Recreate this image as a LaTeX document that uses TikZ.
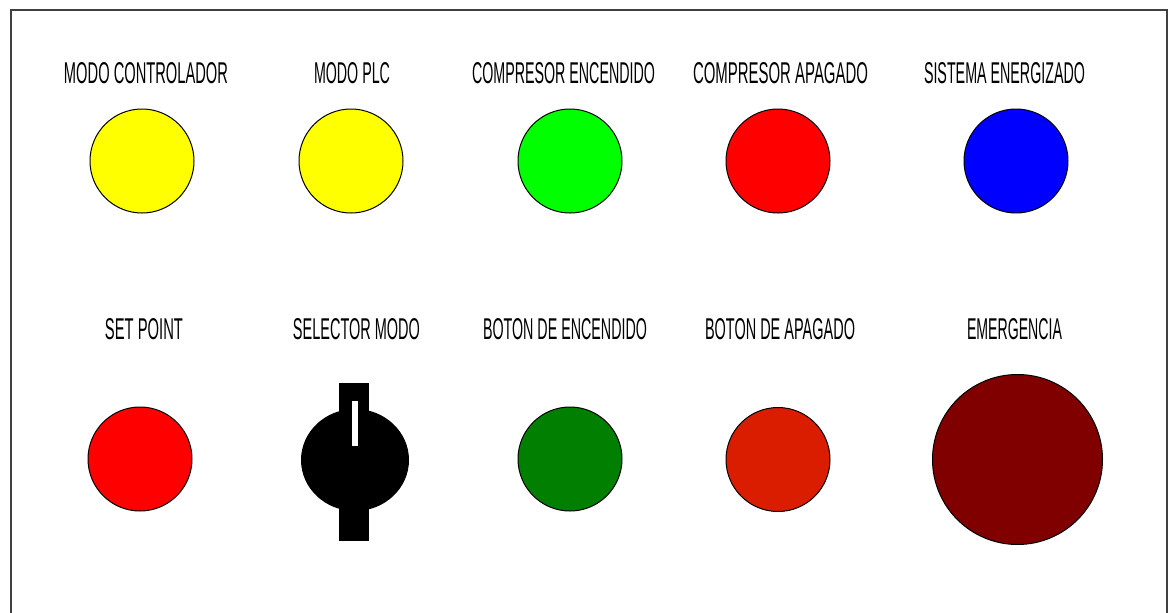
\documentclass[tikz,border=0pt]{standalone}
\usepackage{fontspec}
\setmainfont{Liberation Sans}
\usepackage{graphicx}
\usetikzlibrary{shapes.geometric}
\definecolor{lampyellow}{HTML}{FFFF00}
\definecolor{lampgreen}{HTML}{00FF00}
\definecolor{lampred}{HTML}{FF0000}
\definecolor{lampblue}{HTML}{0000FF}
\definecolor{btngreen}{HTML}{007F00}
\definecolor{btnred}{HTML}{DA1C00}
\definecolor{emerg}{HTML}{800000}
\definecolor{frame}{HTML}{404040}
\newcommand{\lbl}[2]{\resizebox{#1pt}{21pt}{#2}}
\begin{document}
\begin{tikzpicture}[x=1pt,y=-1pt,
  lamp/.style={circle, draw=black, line width=1pt, minimum size=104pt, inner sep=0pt},
  tag/.style={inner sep=0pt, anchor=center},
  panel/.style={draw=frame, line width=2pt}]
\useasboundingbox (0,0) rectangle (1168,613);
\draw[panel] (10.5,630) -- (10.5,9.7) -- (1167,9.7) -- (1167,630);

% row 1 labels
\node[tag] (t1) at (146,73) {\lbl{164}{MODO CONTROLADOR}};
\node[tag] (t2) at (352,73) {\lbl{76}{MODO PLC}};
\node[tag] (t3) at (563.5,73) {\lbl{183}{COMPRESOR ENCENDIDO}};
\node[tag] (t4) at (780.5,73) {\lbl{175}{COMPRESOR APAGADO}};
\node[tag] (t5) at (1004.5,73) {\lbl{161}{SISTEMA ENERGIZADO}};

% row 1 lamps
\node[lamp, fill=lampyellow] (l1) at (142,161) {};
\node[lamp, fill=lampyellow] (l2) at (351,161) {};
\node[lamp, fill=lampgreen] (l3) at (570,161) {};
\node[lamp, fill=lampred] (l4) at (778,161) {};
\node[lamp, fill=lampblue] (l5) at (1016,161) {};

% row 2 labels
\node[tag] (b1t) at (144,329.5) {\lbl{78}{SET POINT}};
\node[tag] (b2t) at (356.5,329.5) {\lbl{127}{SELECTOR MODO}};
\node[tag] (b3t) at (565,329.5) {\lbl{164}{BOTON DE ENCENDIDO}};
\node[tag] (b4t) at (780,329.5) {\lbl{150}{BOTON DE APAGADO}};
\node[tag] (b5t) at (1014.5,329.5) {\lbl{95}{EMERGENCIA}};

% row 2 devices
\node[lamp, fill=lampred] (b1) at (140,459) {};
\node[lamp, fill=btngreen] (b3) at (570,459) {};
\node[lamp, fill=btnred] (b4) at (778,459.5) {};
\node[lamp, fill=emerg, minimum size=170pt] (b5) at (1017.5,459.5) {};

% selector switch
\fill[black] (339,383) rectangle (369,541);
\node[ellipse, fill=black, minimum width=108pt, minimum height=102pt, inner sep=0pt] (b2) at (355,460) {};
\fill[white] (352,401) rectangle (358,446);
\end{tikzpicture}
\end{document}
